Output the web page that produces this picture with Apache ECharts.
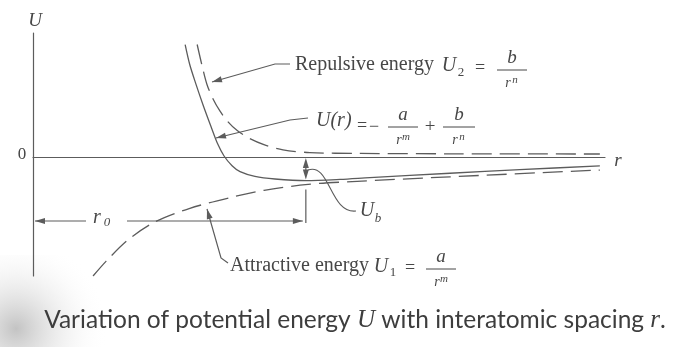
<!DOCTYPE html>
<html>
<head>
<meta charset="utf-8">
<script src="https://cdn.jsdelivr.net/npm/echarts@6/dist/echarts.min.js"></script>
<style>
  html, body { margin: 0; padding: 0; background: #fff; }
  #chart { width: 691px; height: 347px; }
</style>
</head>
<body>
<div id="chart"></div>
<script>
// interatomic spacing r (arbitrary units) and energies
var repR = [2.87, 2.95, 3.04, 3.15, 3.27, 3.41, 3.57, 3.79, 4.06, 4.37, 4.84, 5.72, 7.29, 9.91];
var repU = [5.67, 4.67, 3.67, 2.91, 2.31, 1.77, 1.33, 0.93, 0.60, 0.36, 0.22, 0.18, 0.16, 0.15];

var totR = [2.66, 2.74, 2.85, 2.97, 3.11, 3.23, 3.34, 3.48, 3.62, 3.88, 4.23, 4.77, 5.37, 5.89, 7.29, 8.51, 9.91];
var totU = [5.66, 4.66, 3.66, 2.65, 1.55, 0.65, 0.05, -0.44, -0.74, -0.98, -1.11, -1.19, -1.13, -1.04, -0.82, -0.64, -0.45];

var attR = [1.05, 1.28, 1.66, 2.12, 2.73, 3.43, 4.04, 4.81, 5.58, 7.29, 9.91];
var attU = [-6.00, -5.25, -4.18, -3.29, -2.60, -2.06, -1.68, -1.38, -1.24, -1.00, -0.66];

// equilibrium spacing r0 and bond energy Ub (minimum of U(r))
var r0 = 4.77;
var Ub = -1.19;

var INK = "#474747";
var LINE = "#5c5c5c";
var SERIF = '"Liberation Serif", "DejaVu Serif", serif';

function pairs(xs, ys) {
  var out = [];
  for (var i = 0; i < xs.length; i++) out.push([xs[i], ys[i]]);
  return out;
}

function txt(x, y, s, size, italic, align) {
  return {
    type: "text", x: x, y: y, silent: true,
    style: {
      text: s, fill: INK,
      font: (italic ? "italic " : "") + size + "px " + SERIF,
      align: align || "center", verticalAlign: "middle",
      textAlign: align || "center", textVerticalAlign: "middle"
    }
  };
}

function seg(pts) {
  return {
    type: "polyline", silent: true,
    shape: { points: pts },
    style: { stroke: LINE, lineWidth: 1.2, fill: null }
  };
}

// small filled arrow head, tip at (tx,ty), pointing along angle a
function head(tx, ty, a) {
  var len = 10, w = 3;
  var c = Math.cos(a), s = Math.sin(a);
  return {
    type: "polygon", silent: true,
    shape: { points: [[tx, ty], [tx - len * c + w * s, ty - len * s - w * c], [tx - len * c - w * s, ty - len * s + w * c]] },
    style: { fill: LINE }
  };
}

function arrow(pts) {
  var n = pts.length;
  var a = Math.atan2(pts[n - 1][1] - pts[n - 2][1], pts[n - 1][0] - pts[n - 2][0]);
  return [seg(pts), head(pts[n - 1][0], pts[n - 1][1], a)];
}

// fraction  top / r^sup  centred on cx, bar at y
function frac(cx, y, top, sup, x0, x1) {
  return [
    txt(cx, y - 12, top, 19, true),
    { type: "line", silent: true, shape: { x1: x0, y1: y, x2: x1, y2: y }, style: { stroke: INK, lineWidth: 1 } },
    txt(cx - 4, y + 13, "r", 14, true),
    txt(cx + 3, y + 10, sup, 11, true)
  ];
}

var chart = echarts.init(document.getElementById("chart"));

chart.setOption({
  backgroundColor: "#fff",
  animation: false,
  grid: { left: 33, right: 86, top: 33, bottom: 71 },
  xAxis: {
    type: "value", min: 0, max: 10,
    axisLine: { show: true, onZero: true, lineStyle: { color: LINE, width: 1.2 } },
    axisTick: { show: false }, axisLabel: { show: false }, splitLine: { show: false }
  },
  yAxis: {
    type: "value", min: -6, max: 6.25,
    axisLine: { show: true, lineStyle: { color: LINE, width: 1.2 } },
    axisTick: { show: false }, axisLabel: { show: false }, splitLine: { show: false }
  },
  series: [
    {
      name: "Repulsive", type: "line", data: pairs(repR, repU),
      showSymbol: false, smooth: 0.3,
      lineStyle: { color: LINE, width: 1.3, type: [20, 8] }
    },
    {
      name: "U(r)", type: "line", data: pairs(totR, totU),
      showSymbol: false, smooth: 0.3,
      lineStyle: { color: LINE, width: 1.3 }
    },
    {
      name: "Attractive", type: "line", data: pairs(attR, attU),
      showSymbol: false, smooth: 0.3,
      lineStyle: { color: LINE, width: 1.3, type: [20, 8] }
    }
  ]
});

// annotation positions tied to the data through the grid's scales
var pZero = chart.convertToPixel({ gridIndex: 0 }, [r0, 0]);
var pMin = chart.convertToPixel({ gridIndex: 0 }, [r0, Ub]);
var pAxis = chart.convertToPixel({ gridIndex: 0 }, [0, 0]);
var xm = pMin[0];
var yR0 = 221;

var els = [];

// page shadow of the scan, bottom left
els.push({
  type: "rect", silent: true, z: -1,
  shape: { x: 0, y: 255, width: 200, height: 92 },
  style: {
    fill: new echarts.graphic.RadialGradient(0.08, 0.8, 1.0, [
      { offset: 0, color: "rgba(175,175,175,0.75)" },
      { offset: 0.45, color: "rgba(215,215,215,0.45)" },
      { offset: 1, color: "rgba(255,255,255,0)" }
    ])
  }
});

// axis labels
els.push(txt(35, 21, "U", 19, true));
els.push(txt(22, pAxis[1] - 2, "0", 17, false));
els.push(txt(618, pAxis[1] + 4, "r", 19, true));

// repulsive energy label and leader
els = els.concat(arrow([[290, 64], [275, 64], [212, 82]]));
els.push(txt(295, 65, "Repulsive energy", 20, false, "left"));
els.push(txt(449, 66, "U", 20, true));
els.push(txt(461, 73, "2", 13, false));
els.push(txt(480, 68, "=", 18, false));
els = els.concat(frac(512, 70, "b", "n", 497, 527));

// U(r) label and leader
els = els.concat(arrow([[308, 118], [290, 120], [216, 138]]));
els.push(txt(316, 121, "U(r)", 20, true, "left"));
els.push(txt(362, 126, "=", 18, false));
els.push(txt(374, 127, "\u2212", 18, false));
els = els.concat(frac(403, 127, "a", "m", 388, 418));
els.push(txt(430, 127, "+", 19, false));
els = els.concat(frac(459, 127, "b", "n", 443, 475));

// Ub double arrow between zero line and minimum
els.push(seg([[xm, pZero[1] + 9], [xm, pMin[1] - 9]]));
els.push(head(xm, pZero[1] + 1, -Math.PI / 2));
els.push(head(xm, pMin[1] - 1, Math.PI / 2));
els.push({
  type: "bezierCurve", silent: true,
  shape: { x1: 308, y1: 170, cpx1: 330, cpy1: 162, cpx2: 330, cpy2: 214, x2: 356, y2: 211 },
  style: { stroke: LINE, lineWidth: 1.1, fill: null }
});
els.push(txt(367, 211, "U", 20, true));
els.push(txt(378, 219, "b", 13, true));

// r0 dimension
els.push(seg([[xm, pMin[1] + 9], [xm, yR0 + 2]]));
els = els.concat(arrow([[86, yR0], [pAxis[0] + 2, yR0]]));
els = els.concat(arrow([[127, yR0], [xm - 3, yR0]]));
els.push(txt(97, yR0 - 3, "r", 20, true));
els.push(txt(107, yR0 + 2, "0", 13, true));

// attractive energy label and leader
els = els.concat(arrow([[228, 263], [221, 258], [207, 209]]));
els.push(txt(230, 266, "Attractive energy", 20, false, "left"));
els.push(txt(381, 267, "U", 20, true));
els.push(txt(393, 273, "1", 13, false));
els.push(txt(410, 268, "=", 18, false));
els = els.concat(frac(441, 269, "a", "m", 426, 456));

// caption
els.push({
  type: "text", x: 355, y: 320, silent: true,
  style: {
    text: "{n|Variation of potential energy }{i|U}{n| with interatomic spacing }{i|r}{n|.}",
    align: "center", verticalAlign: "middle", textAlign: "center", textVerticalAlign: "middle",
    rich: {
      n: { font: '24.5px Lato, "Open Sans", sans-serif', fill: "#3d3d3d" },
      i: { font: "italic 25px " + SERIF, fill: "#3d3d3d" }
    }
  }
});

chart.setOption({ graphic: { elements: els } });
</script>
</body>
</html>
